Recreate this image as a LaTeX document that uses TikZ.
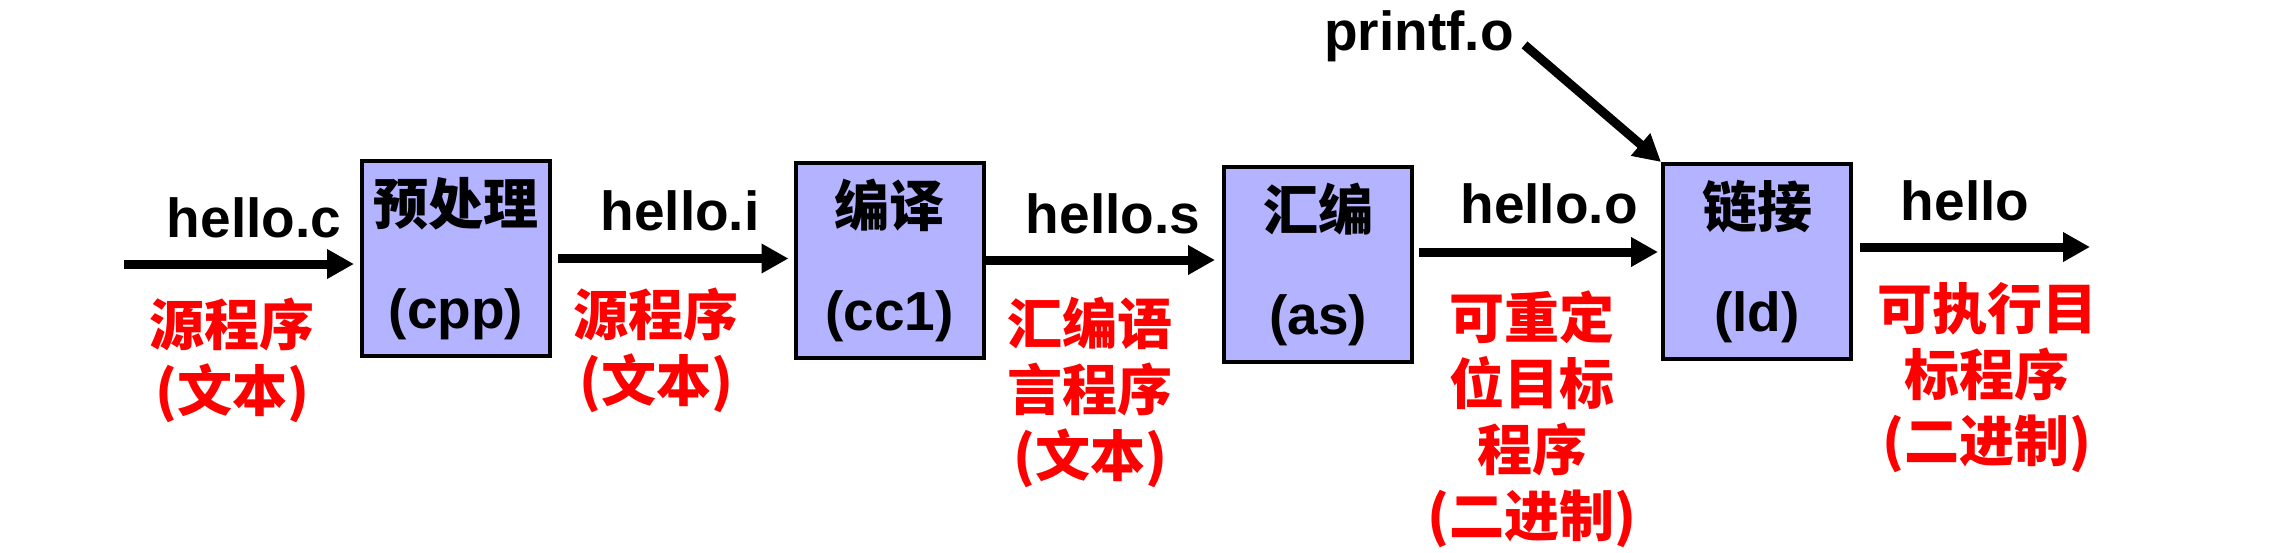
\documentclass[tikz,border=0pt]{standalone}
\usepackage{fontspec}
\setmainfont{Liberation Sans}
\newfontfamily\cjk{Noto Sans CJK SC}
\usetikzlibrary{arrows.meta}
\definecolor{boxfill}{RGB}{179,179,255}
\definecolor{redtxt}{RGB}{255,0,0}
\begin{document}
\begin{tikzpicture}[x=1pt,y=-1pt,
  stage/.style={draw=black, line width=4pt, fill=boxfill, minimum width=188pt, minimum height=195pt, inner sep=0pt, align=center, font=\fontsize{55}{104}\selectfont\bfseries},
  lbl/.style={inner sep=0pt, anchor=base, font=\fontsize{55}{66}\selectfont\bfseries},
  note/.style={inner sep=0pt, align=center, text=redtxt, font=\fontsize{55}{66}\selectfont\cjk\bfseries},
  flow/.style={line width=9pt, -{Triangle[length=27pt,width=28pt]}}]
\useasboundingbox (0,0) rectangle (2283,552);

\node[stage] (cpp) at (456,258.5) {{\cjk 预处理}\\(cpp)};
\node[stage] (cc1) at (889.5,260) {{\cjk 编译}\\(cc1)};
\node[stage] (as) at (1318,264.5) {{\cjk 汇编}\\(as)};
\node[stage] (ld) at (1757,261.5) {{\cjk 链接}\\(ld)};

\node[lbl] (lc) at (254,237) {hello.c};
\node[lbl] (li) at (680,230) {hello.i};
\node[lbl] (ls) at (1113,233) {hello.s};
\node[lbl] (lo) at (1549,223) {hello.o};
\node[lbl] (lh) at (1965,220) {hello};
\node[lbl] (pf) at (1419,50) {printf.o};

\node[note] (n1) at (232,360) {源程序\\(文本)};
\node[note] (n2) at (656,350) {源程序\\(文本)};
\node[note] (n3) at (1090,392) {汇编语\\言程序\\(文本)};
\node[note] (n4) at (1532,419) {可重定\\位目标\\程序\\(二进制)};
\node[note] (n5) at (1987,378) {可执行目\\标程序\\(二进制)};

\coordinate (src) at (124,264);
\coordinate (dst) at (2090,247);
\draw[flow, shorten >=6pt] (src) -- (src -| cpp.west);
\draw[flow, shorten <=6pt, shorten >=5pt] (cpp.east) -- (cpp.east -| cc1.west);
\draw[flow, shorten >=7pt] (cc1.east) -- (cc1.east -| as.west);
\draw[flow, shorten <=5pt, shorten >=3pt] ([yshift=12.5pt]as.east) -- ([yshift=12.5pt]as.east -| ld.west);
\draw[flow, shorten <=7pt] ([yshift=14.5pt]ld.east) -- (dst);
\draw[flow, shorten <=14pt] (pf.east) -- (ld.north west);
\end{tikzpicture}
\end{document}
